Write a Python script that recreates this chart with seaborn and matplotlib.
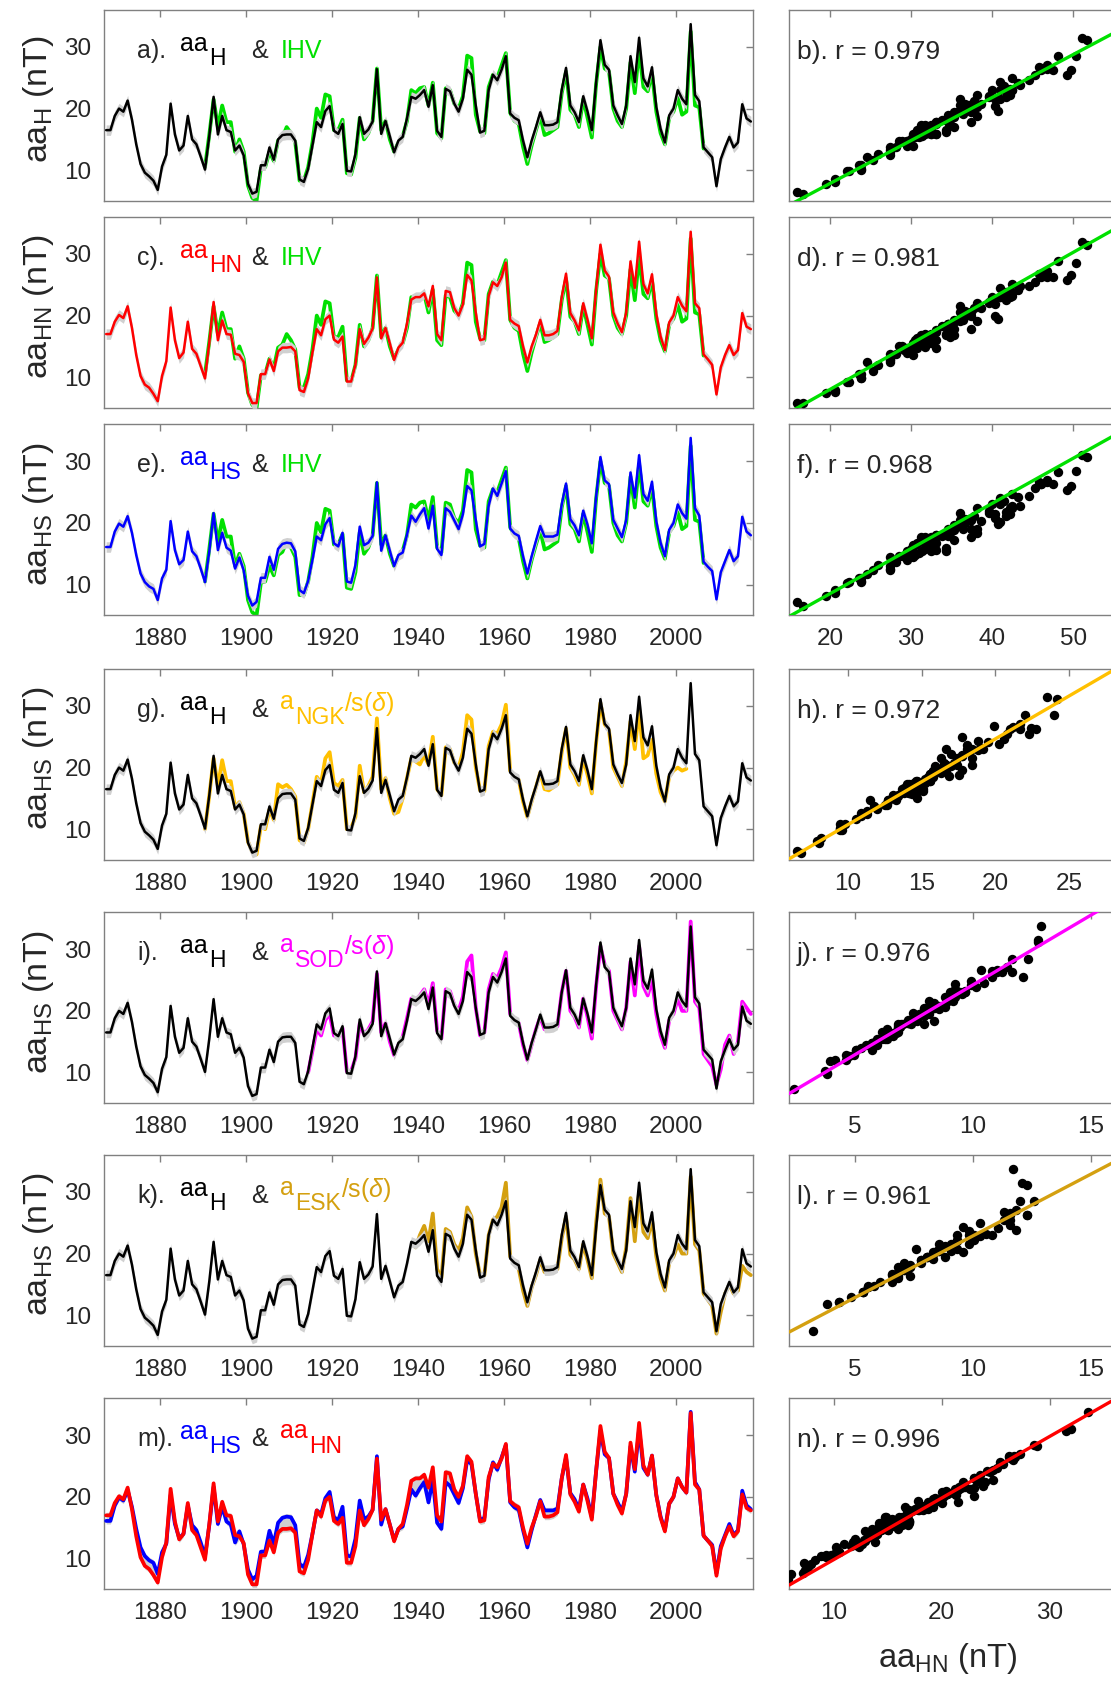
import numpy as np
import matplotlib
matplotlib.use('Agg')
import matplotlib.pyplot as plt
import seaborn as sns

sns.set_theme(style='white')
plt.rcParams['font.family'] = ['Liberation Sans', 'DejaVu Sans']
plt.rcParams['mathtext.fontset'] = 'custom'
plt.rcParams['mathtext.rm'] = 'Liberation Sans'
plt.rcParams['mathtext.it'] = 'Liberation Sans:italic'
plt.rcParams['mathtext.bf'] = 'Liberation Sans:bold'

# ---------------- data (annual means, plotted at mid-year) ----------------
years = np.arange(1867, 2018)
aa_H = [16.5, 16.5, 18.8,
        20.0, 19.5, 21.3, 18.2, 14.2, 11.0, 9.6, 9.0, 8.3, 6.8,
        10.6, 12.5, 20.8, 15.8, 13.2, 14.0, 18.8, 15.0, 14.2, 12.2,
        10.1, 15.5, 21.9, 15.8, 18.8, 16.5, 16.2, 13.2, 14.0, 12.4,
        7.8, 6.2, 6.5, 10.8, 10.8, 13.7, 11.7, 15.0, 15.7, 15.8,
        15.8, 14.8, 8.5, 8.1, 10.2, 14.0, 17.8, 17.0, 19.6, 20.4,
        16.4, 15.9, 17.5, 9.9, 9.8, 12.6, 18.6, 15.9, 16.6, 17.9,
        26.4, 15.9, 18.0, 15.5, 12.9, 14.8, 15.4, 18.4, 21.9, 21.6,
        22.2, 23.0, 20.3, 23.8, 16.4, 15.4, 23.2, 22.8, 20.8, 19.5,
        21.6, 26.3, 25.5, 20.5, 16.1, 16.4, 23.0, 25.5, 24.6, 26.3,
        28.5, 19.2, 18.5, 18.1, 14.8, 12.1, 14.8, 17.0, 19.4, 17.3,
        17.3, 17.4, 17.8, 23.0, 26.6, 20.5, 19.4, 17.8, 22.0, 19.5,
        16.5, 24.2, 31.1, 27.1, 26.3, 20.5, 18.9, 17.5, 20.5, 28.5,
        24.3, 31.5, 24.9, 23.6, 26.7, 20.3, 16.7, 14.5, 18.9, 20.0,
        23.0, 21.6, 20.7, 33.7, 22.2, 21.2, 13.7, 12.9, 12.1, 7.4,
        11.8, 13.7, 15.4, 13.7, 14.5, 20.7, 18.4, 17.9]
aa_HN = [17.0, 17.0, 19.0,
         20.1, 19.6, 21.5, 18.0, 13.6, 10.2, 8.8, 8.3, 7.3, 6.1,
         10.2, 12.6, 21.3, 16.0, 13.1, 14.0, 19.0, 14.6, 13.8, 11.8,
         9.8, 15.6, 22.2, 16.0, 19.2, 17.0, 16.9, 13.8, 13.6, 12.5,
         7.4, 5.8, 5.8, 10.5, 10.5, 12.9, 11.0, 14.2, 14.8, 14.8,
         14.9, 14.2, 7.9, 7.6, 9.8, 14.0, 17.8, 16.8, 19.4, 20.0,
         16.1, 15.6, 16.6, 9.3, 9.3, 12.0, 17.8, 15.4, 16.4, 17.9,
         26.2, 16.3, 18.0, 15.5, 12.8, 14.8, 15.6, 18.7, 22.6, 23.0,
         23.0, 23.6, 21.5, 24.8, 17.0, 16.0, 24.0, 23.8, 21.2, 20.0,
         21.8, 26.6, 25.7, 20.5, 16.0, 16.2, 23.2, 25.4, 24.8, 26.2,
         28.6, 19.3, 18.7, 18.3, 15.0, 12.4, 15.0, 16.9, 19.3, 16.8,
         16.8, 17.0, 17.5, 23.0, 26.8, 20.4, 19.2, 17.6, 22.0, 19.3,
         16.3, 24.2, 31.5, 27.3, 26.3, 20.5, 18.7, 17.3, 20.5, 28.8,
         24.5, 32.0, 25.1, 23.6, 26.7, 20.3, 16.6, 14.4, 18.9, 20.0,
         23.0, 21.6, 20.7, 33.6, 22.0, 21.2, 13.7, 12.9, 12.0, 7.2,
         11.6, 13.6, 15.2, 13.6, 14.4, 20.4, 18.2, 17.8]
aa_HS = [16.1, 16.1, 18.6,
         19.9, 19.4, 21.1, 18.4, 14.8, 11.8, 10.4, 9.7, 9.3, 7.5,
         11.0, 12.4, 20.3, 15.6, 13.3, 14.0, 18.6, 15.4, 14.6, 12.6,
         10.4, 15.4, 21.6, 15.6, 18.4, 16.0, 15.5, 12.6, 14.4, 12.3,
         8.2, 6.6, 7.2, 11.1, 11.1, 14.5, 12.4, 15.8, 16.6, 16.8,
         16.7, 15.4, 9.1, 8.6, 10.6, 14.0, 17.8, 17.2, 19.8, 20.8,
         16.7, 16.2, 18.4, 10.5, 10.3, 13.2, 19.4, 16.4, 16.8, 17.9,
         26.6, 15.5, 18.0, 15.5, 13.0, 14.8, 15.2, 18.1, 21.2, 20.2,
         21.4, 22.4, 19.1, 22.8, 15.8, 14.8, 22.4, 21.8, 20.4, 19.0,
         21.4, 26.0, 25.3, 20.5, 16.2, 16.6, 22.8, 25.6, 24.4, 26.4,
         28.4, 19.1, 18.3, 17.9, 14.6, 11.8, 14.6, 17.1, 19.5, 17.8,
         17.8, 17.8, 18.1, 23.0, 26.4, 20.6, 19.6, 18.0, 22.0, 19.7,
         16.7, 24.2, 30.7, 26.9, 26.3, 20.5, 19.1, 17.7, 20.5, 28.2,
         24.1, 31.0, 24.7, 23.6, 26.7, 20.3, 16.8, 14.6, 18.9, 20.0,
         23.0, 21.6, 20.7, 33.8, 22.4, 21.2, 13.7, 12.9, 12.2, 7.6,
         12.0, 13.8, 15.6, 13.8, 14.6, 21.0, 18.6, 18.0]

# IHV scaled to aa (1890-2006)
ihv_years = np.arange(1890, 2007)
ihv_scaled = [10.5, 15.8, 21.5, 17.0, 20.5, 17.8, 17.8, 13.0, 15.0, 13.0,
              7.5, 5.5, 5.0, 10.3, 10.5, 13.0, 11.5, 14.8, 15.3, 17.0,
              16.0, 14.5, 8.3, 8.3, 10.5, 14.5, 20.0, 18.5, 22.3, 22.0,
              16.5, 16.5, 18.2, 9.5, 9.3, 12.0, 18.5, 15.0, 16.0, 18.0,
              26.5, 16.5, 18.0, 15.0, 13.0, 14.5, 15.5, 18.0, 23.0, 22.5,
              23.3, 23.5, 20.5, 24.2, 16.0, 15.2, 23.3, 23.0, 20.8, 20.0,
              22.0, 28.6, 28.2, 19.0, 16.3, 16.0, 23.5, 25.5, 25.0, 27.0,
              29.0, 19.3, 18.0, 17.5, 13.8, 11.0, 14.0, 16.5, 18.8, 15.7,
              16.0, 16.5, 17.0, 22.5, 26.0, 19.8, 19.0, 17.0, 21.5, 18.5,
              15.3, 24.0, 30.0, 26.5, 26.0, 20.0, 18.0, 17.0, 20.0, 27.5,
              22.5, 29.5, 23.5, 22.8, 25.8, 19.5, 16.0, 14.2, 18.5, 19.5,
              21.8, 19.0, 19.5, 32.5, 20.5, 20.2, 13.5]
# NGK scaled (1890-2002)
ngk_years = np.arange(1890, 2003)
ngk_scaled = [10.0, 15.5, 21.5, 17.0, 21.2, 17.8, 17.8, 13.5, 14.4, 12.5,
              8.0, 6.3, 5.9, 10.5, 10.0, 13.2, 11.5, 17.3, 16.8, 17.2,
              16.5, 15.3, 8.2, 7.8, 10.0, 14.2, 18.5, 17.5, 21.5, 22.5,
              17.5, 17.0, 18.0, 10.0, 10.2, 12.0, 20.3, 16.0, 17.0, 18.5,
              28.0, 16.5, 18.3, 15.0, 12.5, 12.8, 15.0, 18.3, 21.5, 21.0,
              20.5, 22.0, 20.5, 25.0, 16.5, 15.5, 23.3, 23.0, 20.8, 20.0,
              22.5, 28.5, 27.8, 20.0, 16.3, 16.2, 23.5, 25.8, 25.5, 27.0,
              30.2, 19.5, 18.8, 18.0, 14.5, 12.0, 14.5, 16.8, 19.2, 16.5,
              16.3, 16.8, 17.3, 22.5, 26.3, 20.0, 18.8, 17.2, 21.5, 18.8,
              15.8, 24.0, 30.5, 27.0, 26.0, 20.0, 18.5, 17.0, 21.0, 27.5,
              23.0, 29.5, 21.5, 22.0, 24.5, 19.0, 16.0, 14.5, 18.5, 19.5,
              20.0, 19.5, 19.8]
# SOD scaled (1914-2017)
sod_years = np.arange(1914, 2018)
sod_scaled = [10.0, 13.5, 17.0, 16.0, 18.5, 19.5,
              16.0, 15.8, 17.2, 10.2, 10.2, 12.3, 18.0, 16.2, 17.0, 18.3,
              26.0, 16.5, 18.0, 15.0, 12.8, 14.5, 15.8, 18.8, 22.0, 21.8,
              22.5, 23.5, 21.0, 24.5, 16.8, 15.5, 23.5, 23.2, 21.0, 20.0,
              22.3, 28.0, 29.0, 20.5, 16.0, 16.5, 23.5, 26.0, 25.3, 27.0,
              29.5, 19.5, 18.7, 18.0, 14.5, 12.0, 14.5, 17.0, 19.0, 17.0,
              17.0, 17.2, 17.5, 23.0, 26.5, 20.0, 19.0, 17.3, 22.0, 19.0,
              15.5, 24.0, 30.5, 27.5, 26.5, 20.0, 18.5, 17.0, 20.5, 28.0,
              22.5, 30.5, 24.0, 22.5, 25.0, 19.5, 16.0, 14.0, 18.5, 19.5,
              22.0, 20.0, 20.0, 34.5, 21.5, 20.5, 13.0, 12.0, 11.0, 8.0,
              10.5, 14.5, 16.0, 13.0, 15.0, 21.5, 20.5, 19.5]
# ESK scaled (1939-2017)
esk_years = np.arange(1939, 2018)
esk_scaled = [21.0,
              23.0, 24.5, 22.0, 26.5, 17.5, 16.0, 24.0, 23.5, 21.5, 20.5,
              22.5, 27.5, 26.0, 20.0, 16.5, 16.5, 23.0, 25.5, 26.0, 27.5,
              31.5, 19.5, 18.5, 17.5, 14.0, 11.5, 14.5, 16.5, 19.0, 17.0,
              17.0, 17.2, 17.5, 22.5, 26.0, 19.8, 19.0, 17.5, 21.5, 19.0,
              16.0, 25.0, 32.0, 26.5, 26.0, 20.0, 18.5, 17.0, 21.0, 29.0,
              22.0, 30.0, 23.5, 22.5, 25.5, 19.5, 16.0, 14.0, 18.5, 19.5,
              21.5, 20.0, 20.0, 32.5, 21.5, 20.5, 13.5, 12.5, 11.5, 7.0,
              10.5, 13.5, 15.0, 13.5, 14.0, 18.0, 17.0, 16.5]

# raw station values that sit off the regression in the scatter panels
sod_raw_override = {2003: 12.9, 2009: 2.4}
esk_raw_override = {1960: 12.6, 1982: 12.3, 1989: 12.0, 1991: 12.1, 2003: 11.7, 2009: 3.2}

# regression lines (slope, intercept)
fit_ihv_H = (0.698, -6.13)
fit_ihv_HN = (0.742, -6.84)
fit_ihv_HS = (0.733, -6.15)
fit_ngk = (1.39, -3.14)
fit_sod = (2.26, 1.62)
fit_esk = (2.00, 2.88)
fit_hn_hs = (1.0, -0.2)
r_values = ['0.979', '0.981', '0.968', '0.972', '0.976', '0.961', '0.996']

# ---------------- figure ----------------
W, HP = 1111, 1684
fig = plt.figure(figsize=(W / 100, HP / 100), dpi=100)
SP = '#808080'
TXT = '#262626'
GREEN, RED, BLUE = '#00E000', '#FF0000', '#0000FF'
NGKC, SODC, ESKC = '#FFC000', '#FF00FF', '#D4A010'
BAND = '#d0d0d0'


def ax_at(left, top, width, height):
    return fig.add_axes([left / W, 1 - (top + height) / HP, width / W, height / HP])


def style(ax, xlim, xticks, xlabels, ylabels):
    ax.set_xlim(*xlim)
    ax.set_ylim(5, 36)
    ax.set_xticks(xticks)
    ax.set_yticks([10, 20, 30])
    for s in ax.spines.values():
        s.set_color(SP)
        s.set_linewidth(1.0)
        s.set_visible(True)
    ax.tick_params(direction='in', top=True, right=True, length=5, width=1.0,
                   color=SP, labelsize=17.5, labelcolor=TXT, pad=9,
                   labelbottom=xlabels, labelleft=ylabels)
    ax.set_xlabel('')
    ax.set_ylabel('')
    ax.grid(False)
    ax.set_facecolor('white')


yrs_mid = years + 0.5
L_LEFT, L_W = 104, 649
R_LEFT, R_W = 789.3, 365
tops = [10, 217, 424.4, 669, 912.3, 1155, 1398.3]
PH = 191


def line(ax, x, y, color, lw, z, band=False):
    y = np.asarray(y, dtype=float)
    if band:
        ax.fill_between(x, y - 0.85, y + 0.85, color=BAND, lw=0, zorder=z - 0.5)
    sns.lineplot(x=x, y=y, ax=ax, color=color, linewidth=lw, zorder=z,
                 sort=False, legend=False)


def sel(vals, yrs_sub):
    idx = (np.asarray(yrs_sub) - years[0]).astype(int)
    return np.asarray(vals, dtype=float)[idx]


left_axes = [ax_at(L_LEFT, t, L_W, PH) for t in tops]

CW, KW = 2.7, 1.8
ax = left_axes[0]
line(ax, ihv_years + 0.5, ihv_scaled, GREEN, CW, 2)
line(ax, yrs_mid, aa_H, 'black', KW, 4, band=True)
ax = left_axes[1]
line(ax, ihv_years + 0.5, ihv_scaled, GREEN, CW, 2)
line(ax, yrs_mid, aa_HN, RED, KW, 4, band=True)
ax = left_axes[2]
line(ax, ihv_years + 0.5, ihv_scaled, GREEN, CW, 2)
line(ax, yrs_mid, aa_HS, BLUE, KW, 4, band=True)
ax = left_axes[3]
line(ax, ngk_years + 0.5, ngk_scaled, NGKC, CW, 2)
line(ax, yrs_mid, aa_H, 'black', KW, 4, band=True)
ax = left_axes[4]
line(ax, sod_years + 0.5, sod_scaled, SODC, CW, 2)
line(ax, yrs_mid, aa_H, 'black', KW, 4, band=True)
ax = left_axes[5]
line(ax, esk_years + 0.5, esk_scaled, ESKC, CW, 2)
line(ax, yrs_mid, aa_H, 'black', KW, 4, band=True)
ax = left_axes[6]
ax.fill_between(yrs_mid, np.minimum(aa_HS, aa_HN) - 0.5, np.maximum(aa_HS, aa_HN) + 0.5,
                color=BAND, lw=0, zorder=1)
line(ax, yrs_mid, aa_HS, BLUE, CW, 3)
line(ax, yrs_mid, aa_HN, RED, CW, 4)

for i, ax in enumerate(left_axes):
    style(ax, (1867, 2018), [1880, 1900, 1920, 1940, 1960, 1980, 2000],
          xlabels=(i >= 2), ylabels=True)


# ---------------- scatter panels ----------------
def raw(scaled, fit, yrs=None, override=None):
    r = (np.asarray(scaled, dtype=float) - fit[1]) / fit[0]
    if override:
        for y, v in override.items():
            r[int(y - yrs[0])] = v
    return r


scat = [
    (raw(ihv_scaled, fit_ihv_H), sel(aa_H, ihv_years), fit_ihv_H, GREEN, (15, 60), [20, 30, 40, 50], False),
    (raw(ihv_scaled, fit_ihv_H), sel(aa_HN, ihv_years), fit_ihv_HN, GREEN, (15, 60), [20, 30, 40, 50], False),
    (raw(ihv_scaled, fit_ihv_H), sel(aa_HS, ihv_years), fit_ihv_HS, GREEN, (15, 60), [20, 30, 40, 50], True),
    (raw(ngk_scaled, fit_ngk), sel(aa_H, ngk_years), fit_ngk, NGKC, (6, 30.8), [10, 15, 20, 25], True),
    (raw(sod_scaled, fit_sod, sod_years, sod_raw_override), sel(aa_H, sod_years), fit_sod, SODC,
     (2.2, 17.7), [5, 10, 15], True),
    (raw(esk_scaled, fit_esk, esk_years, esk_raw_override), sel(aa_H, esk_years), fit_esk, ESKC,
     (2.2, 17.7), [5, 10, 15], True),
    (np.asarray(aa_HN, float), np.asarray(aa_HS, float), fit_hn_hs, RED, (5.9, 39.7), [10, 20, 30], True),
]
letters_r = ['b', 'd', 'f', 'h', 'j', 'l', 'n']
for i, (sx, sy, fit, col, xl, xt, lab) in enumerate(scat):
    ax = ax_at(R_LEFT, tops[i], R_W, PH)
    sns.scatterplot(x=sx, y=sy, ax=ax, color='black', s=46, linewidth=0, zorder=3, legend=False)
    xx = np.array([xl[0], xl[1]])
    sns.lineplot(x=xx, y=fit[0] * xx + fit[1], ax=ax, color=col, linewidth=2.4, zorder=4, legend=False)
    style(ax, xl, xt, xlabels=lab, ylabels=False)
    ax.set_yticklabels([])


# ---------------- text ----------------
def ptext(x, y, s, color=TXT, size=17):
    return fig.text(x / W, 1 - y / HP, s, color=color, fontsize=size, ha='left', va='baseline')


renderer = fig.canvas.get_renderer()


def after(t):
    return t.get_window_extent(renderer=renderer).x1


def annot(top, letter, base1, sub1, col1, base2, sub2, col2, tail=None):
    b = top + 48
    ptext(137, b, letter + ').', TXT, 18)
    t1 = ptext(180, b - 7, base1, col1, 18)
    ptext(after(t1) + 1, b + 7, sub1, col1, 16.5)
    ptext(251, b, '&', TXT, 18)
    if sub2 is None:
        ptext(281, b, base2, col2, 18)
    else:
        t2 = ptext(280, b - 8, base2, col2, 18)
        t3 = ptext(after(t2) + 1, b + 7, sub2, col2, 16.5)
        if tail is not None:
            ptext(after(t3), b - 6, tail, col2, 18)


annot(tops[0], 'a', 'aa', 'H', 'black', 'IHV', None, GREEN)
annot(tops[1], 'c', 'aa', 'HN', RED, 'IHV', None, GREEN)
annot(tops[2], 'e', 'aa', 'HS', BLUE, 'IHV', None, GREEN)
annot(tops[3], 'g', 'aa', 'H', 'black', 'a', 'NGK', NGKC, r'/s($\delta$)')
annot(tops[4], 'i', 'aa', 'H', 'black', 'a', 'SOD', SODC, r'/s($\delta$)')
annot(tops[5], 'k', 'aa', 'H', 'black', 'a', 'ESK', ESKC, r'/s($\delta$)')
annot(tops[6], 'm', 'aa', 'HS', BLUE, 'aa', 'HN', RED)

for i, l in enumerate(letters_r):
    ptext(797, tops[i] + 49, f'{l}). r = {r_values[i]}', TXT, 19)

ylabs = [r'aa$_\mathrm{H}$ (nT)', r'aa$_\mathrm{HN}$ (nT)', r'aa$_\mathrm{HS}$ (nT)',
         r'aa$_\mathrm{HS}$ (nT)', r'aa$_\mathrm{HS}$ (nT)', r'aa$_\mathrm{HS}$ (nT)']
for i, s in enumerate(ylabs):
    fig.text(39 / W, 1 - (tops[i] + PH / 2 - 6) / HP, s, rotation=90, ha='center', va='center',
             fontsize=24.5, color=TXT)

fig.text(948 / W, 1 - 1667 / HP, r'aa$_\mathrm{HN}$ (nT)', ha='center', va='baseline',
         fontsize=23.5, color=TXT)

fig.savefig('out.png', dpi=100, facecolor='white')
